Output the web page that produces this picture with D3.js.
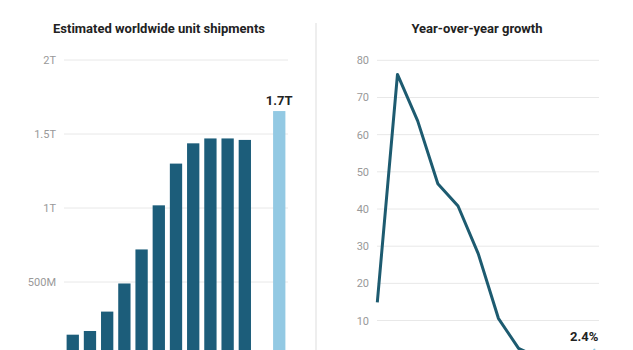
<!DOCTYPE html>
<html>
<head>
<meta charset="utf-8">
<script src="https://cdn.jsdelivr.net/npm/d3@7"></script>
<style>
  body { margin: 0; background: #fff; overflow: hidden; }
  svg { display: block; font-family: Roboto, "Noto Sans", sans-serif; }
</style>
</head>
<body>
<svg id="chart" width="633" height="350"></svg>
<script>
// Shipments (trillions of units) by year, plus one forecast bar after a gap
const shipYears = ["2011", "2012", "2013", "2014", "2015", "2016", "2017", "2018", "2019", "2020", "2021", "gap", "2026"];
const shipments = [0.144, 0.169, 0.30, 0.49, 0.72, 1.018, 1.30, 1.437, 1.47, 1.47, 1.46];
const forecastShipment = 1.655;
const shipTicks = [0.5, 1, 1.5, 2];
const shipTickLabels = ["500M", "1T", "1.5T", "2T"];

// Year-over-year growth (%), plus forecast annual growth
const growthYears = ["2012", "2013", "2014", "2015", "2016", "2017", "2018", "2019", "2020", "2021", "gap", "2026"];
const growth = [14.9, 76.2, 63.7, 46.8, 40.8, 28.0, 10.6, 2.5, 0.0, -0.7];
const forecastGrowth = 2.4;
const growthTicks = [10, 20, 30, 40, 50, 60, 70, 80];

const dark = "#1c5d7a";
const light = "#93c9e3";
const grid = "#e8e8e8";
const tickColor = "#999";

const svg = d3.select("#chart");

// divider between the two panels
svg.append("line")
    .attr("x1", 316).attr("x2", 316)
    .attr("y1", 23).attr("y2", 350)
    .attr("stroke", "#ddd");

// titles
svg.append("text")
    .attr("x", 159).attr("y", 33)
    .attr("text-anchor", "middle")
    .attr("font-size", 13).attr("font-weight", 700)
    .attr("fill", "#222")
    .text("Estimated worldwide unit shipments");

svg.append("text")
    .attr("x", 477).attr("y", 33)
    .attr("text-anchor", "middle")
    .attr("font-size", 13).attr("font-weight", 700)
    .attr("fill", "#222")
    .text("Year-over-year growth");

// ---- Left: bar chart ----
const x1 = d3.scaleBand()
    .domain(shipYears)
    .range([64.2, 287.8])
    .paddingInner(0.285)
    .paddingOuter(0.14);

const y1 = d3.scaleLinear()
    .domain([0, 2])
    .range([356, 60]);

const left = svg.append("g");

left.selectAll(".grid")
    .data(shipTicks)
    .enter()
    .append("line")
    .attr("x1", 64).attr("x2", 288)
    .attr("y1", d => y1(d)).attr("y2", d => y1(d))
    .attr("stroke", grid);

left.selectAll(".tick-label")
    .data(shipTicks)
    .enter()
    .append("text")
    .attr("x", 56)
    .attr("y", d => y1(d) + 4)
    .attr("text-anchor", "end")
    .attr("font-size", 11)
    .attr("fill", tickColor)
    .text((d, i) => shipTickLabels[i]);

left.selectAll(".bar")
    .data(shipments)
    .enter()
    .append("rect")
    .attr("x", (d, i) => x1(shipYears[i]))
    .attr("y", d => y1(d))
    .attr("width", x1.bandwidth())
    .attr("height", d => y1(0) - y1(d))
    .attr("fill", dark);

const lastYear = shipYears[shipYears.length - 1];
left.append("rect")
    .attr("x", x1(lastYear))
    .attr("y", y1(forecastShipment))
    .attr("width", x1.bandwidth())
    .attr("height", y1(0) - y1(forecastShipment))
    .attr("fill", light);

left.append("text")
    .attr("x", x1(lastYear) + x1.bandwidth() / 2)
    .attr("y", y1(forecastShipment) - 6)
    .attr("text-anchor", "middle")
    .attr("font-size", 13).attr("font-weight", 700)
    .attr("fill", "#222")
    .text("1.7T");

// ---- Right: line chart ----
const x2 = d3.scalePoint()
    .domain(growthYears)
    .range([377.3, 599.3]);

const y2 = d3.scaleLinear()
    .domain([0, 80])
    .range([357.7, 60.3]);

const right = svg.append("g");

right.selectAll(".grid")
    .data(growthTicks)
    .enter()
    .append("line")
    .attr("x1", 377).attr("x2", 599)
    .attr("y1", d => y2(d)).attr("y2", d => y2(d))
    .attr("stroke", grid);

right.selectAll(".tick-label")
    .data(growthTicks)
    .enter()
    .append("text")
    .attr("x", 369)
    .attr("y", d => y2(d) + 4)
    .attr("text-anchor", "end")
    .attr("font-size", 11)
    .attr("fill", tickColor)
    .text(d => d);

const line = d3.line()
    .x((d, i) => x2(growthYears[i]))
    .y(d => y2(d));

right.append("path")
    .attr("d", line(growth))
    .attr("fill", "none")
    .attr("stroke", "#1d5b70")
    .attr("stroke-width", 3)
    .attr("stroke-linejoin", "round");

// forecast segment
const lastGrowthYear = growthYears[growthYears.length - 1];
right.append("line")
    .attr("x1", x2(growthYears[growth.length - 1]))
    .attr("y1", y2(growth[growth.length - 1]))
    .attr("x2", x2(lastGrowthYear))
    .attr("y2", y2(forecastGrowth))
    .attr("stroke", light)
    .attr("stroke-width", 3)
    .attr("stroke-dasharray", "2,4");

right.append("text")
    .attr("x", x2(lastGrowthYear) - 1)
    .attr("y", y2(forecastGrowth) - 8)
    .attr("text-anchor", "end")
    .attr("font-size", 13).attr("font-weight", 700)
    .attr("fill", "#222")
    .text("2.4%");
</script>
</body>
</html>
